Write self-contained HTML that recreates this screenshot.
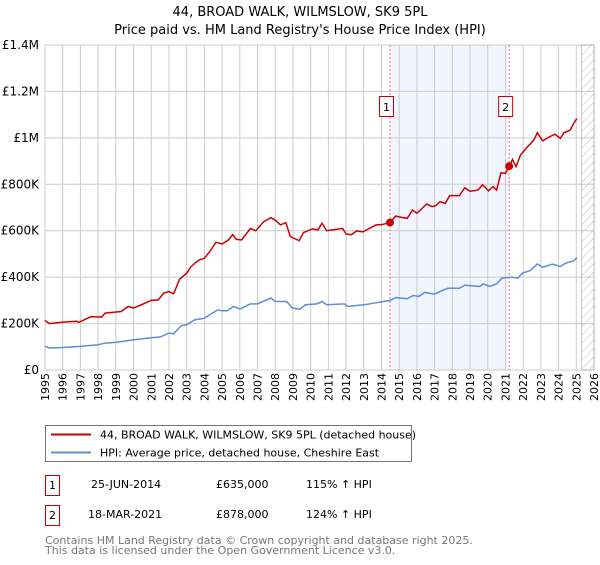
<!DOCTYPE html>
<html><head><meta charset="utf-8"><style>
body{margin:0;background:#fff;font-family:"Liberation Sans","DejaVu Sans",sans-serif;}
svg text{font-family:"DejaVu Sans","Liberation Sans",sans-serif;}
</style></head><body>
<svg id="c" width="600" height="560" xmlns="http://www.w3.org/2000/svg">
<defs><pattern id="h" width="6" height="6" patternUnits="userSpaceOnUse" patternTransform="rotate(45)"><line x1="0" y1="0" x2="0" y2="6" stroke="#bbb" stroke-width="1"/></pattern></defs>
<text x="300" y="16" text-anchor="middle" font-size="13">44, BROAD WALK, WILMSLOW, SK9 5PL</text>
<text x="300" y="34" text-anchor="middle" font-size="13">Price paid vs. HM Land Registry's House Price Index (HPI)</text>
<g id="plot"></g>
<rect x="45.5" y="425.5" width="366" height="36" fill="#fff" stroke="#777"/>
<line x1="51" y1="434.5" x2="91" y2="434.5" stroke="#cc0000" stroke-width="2"/>
<text x="100" y="438.5" font-size="11">44, BROAD WALK, WILMSLOW, SK9 5PL (detached house)</text>
<line x1="51" y1="452.5" x2="91" y2="452.5" stroke="#5b8fd4" stroke-width="2"/>
<text x="100" y="456.5" font-size="11">HPI: Average price, detached house, Cheshire East</text>
<rect x="45.5" y="475.5" width="14" height="20" fill="none" stroke="#cc0000"/>
<text x="52.5" y="489" text-anchor="middle" font-size="11">1</text>
<text x="91" y="488" font-size="11">25-JUN-2014</text>
<text x="216" y="488" font-size="11">£635,000</text>
<text x="306" y="488" font-size="11">115% ↑ HPI</text>
<rect x="45.5" y="505.5" width="14" height="20" fill="none" stroke="#cc0000"/>
<text x="52.5" y="519" text-anchor="middle" font-size="11">2</text>
<text x="88" y="518" font-size="11">18-MAR-2021</text>
<text x="216" y="518" font-size="11">£878,000</text>
<text x="306" y="518" font-size="11">124% ↑ HPI</text>
<text x="45" y="544" font-size="11" fill="#777">Contains HM Land Registry data © Crown copyright and database right 2025.</text>
<text x="45" y="554" font-size="11" fill="#777">This data is licensed under the Open Government Licence v3.0.</text>
</svg>
<script>
const yTicks=[0,200,400,600,800,1000,1200,1400];
const yTickLabels=["£0","£200K","£400K","£600K","£800K","£1M","£1.2M","£1.4M"];
const years=[1995,1996,1997,1998,1999,2000,2001,2002,2003,2004,2005,2006,2007,2008,2009,2010,2011,2012,2013,2014,2015,2016,2017,2018,2019,2020,2021,2022,2023,2024,2025,2026];
const propT=[1995,1995.25,1996,1996.8,1996.9,1997.6,1998.2,1998.4,1999.3,1999.7,2000,2000.65,2001,2001.4,2001.7,2002,2002.26,2002.6,2003,2003.25,2003.7,2004,2004.3,2004.65,2005,2005.35,2005.6,2005.8,2006.1,2006.6,2006.9,2007.35,2007.75,2008,2008.3,2008.6,2008.85,2009.35,2009.6,2010.1,2010.4,2010.65,2010.9,2011.45,2011.8,2012,2012.3,2012.6,2012.95,2013.3,2013.7,2014,2014.48,2014.8,2015.1,2015.45,2015.75,2016,2016.55,2016.85,2017.06,2017.3,2017.6,2017.85,2018.4,2018.7,2019,2019.45,2019.7,2020.05,2020.3,2020.5,2020.75,2021,2021.21,2021.4,2021.6,2021.85,2022.25,2022.6,2022.8,2023.1,2023.55,2023.8,2024.1,2024.3,2024.65,2024.85,2025.03];
const propV=[213,200,206,210,205,230,228,245,252,274,267,288,300,302,331,338,328,391,417,446,474,481,510,550,543,560,583,563,560,610,600,639,656,646,625,635,575,557,592,608,603,632,600,606,610,586,583,599,595,609,625,626,635,663,658,653,689,675,715,704,708,725,718,751,751,785,770,775,798,772,790,775,850,847,878,907,876,926,962,990,1022,987,1007,1016,997,1022,1033,1062,1083];
const hpiT=[1995,1995.25,1996,1997,1998,1998.4,1999,1999.8,2001,2001.5,2002,2002.26,2002.7,2003,2003.45,2004,2004.3,2004.75,2005,2005.3,2005.65,2006,2006.6,2007,2007.75,2008,2008.65,2008.97,2009.4,2009.7,2010.35,2010.65,2010.9,2011.9,2012.1,2013.05,2013.8,2014.5,2014.8,2015.45,2015.8,2016.1,2016.45,2017,2017.3,2017.75,2018.4,2018.7,2019.55,2019.75,2020.1,2020.5,2020.8,2021.3,2021.7,2021.95,2022.4,2022.8,2023.1,2023.65,2024.1,2024.4,2024.85,2025.03];
const hpiV=[102,95,97,102,109,116,119,128,139,142,159,156,191,195,216,223,238,259,255,255,274,262,285,285,310,295,295,267,262,281,285,295,281,285,274,281,291,300,312,307,321,317,334,327,338,352,352,365,360,371,360,371,396,400,396,417,428,457,443,456,446,460,471,484];
const sales=[{n:"1",t:2014.48,v:635},{n:"2",t:2021.21,v:878}];
const X=t=>45+(t-1995)*(594-45)/31, Y=v=>370-v*(370-45)/1400;
const NS="http://www.w3.org/2000/svg", g=document.getElementById('plot');
function mk(tag,a,p){const e=document.createElementNS(NS,tag);for(const k in a)e.setAttribute(k,a[k]);(p||g).appendChild(e);return e;}
let e;
e=mk('rect',{x:X(sales[0].t),y:45,width:X(sales[1].t)-X(sales[0].t),height:325,fill:'#f2f5fd'});


years.forEach(y=>{e=mk('line',{x1:X(y),x2:X(y),y1:45,y2:370,stroke:'#ccc'});


e=mk('text',{x:0,y:0,'font-size':11,'text-anchor':'end',transform:`translate(${X(y)+4},373) rotate(-90)`});e.textContent=y;

});
yTicks.forEach((v,i)=>{e=mk('line',{x1:45,x2:594,y1:Y(v),y2:Y(v),stroke:'#ccc'});


e=mk('text',{x:39,y:Y(v)+4,'font-size':12,'text-anchor':'end'});e.textContent=yTickLabels[i];

});
e=mk('rect',{x:X(2025.3),y:45,width:594-X(2025.3),height:325,fill:'url(#h)',stroke:'#999','stroke-width':0.5});


sales.forEach(s=>{e=mk('line',{x1:X(s.t),x2:X(s.t),y1:45,y2:370,stroke:'#e55','stroke-dasharray':'2,2','stroke-width':0.8});


e=mk('rect',{x:X(s.t)-10.5,y:96.5,width:14,height:20,fill:'#fff',stroke:'#cc0000'});


e=mk('text',{x:X(s.t)-3.5,y:111,'font-size':11,'text-anchor':'middle'});e.textContent=s.n;

});
e=mk('polyline',{points:hpiT.map((t,i)=>X(t)+','+Y(hpiV[i])).join(' '),fill:'none',stroke:'#5b8fd4','stroke-width':1.5});


e=mk('polyline',{points:propT.map((t,i)=>X(t)+','+Y(propV[i])).join(' '),fill:'none',stroke:'#cc0000','stroke-width':1.5});


sales.forEach(s=>{e=mk('circle',{cx:X(s.t),cy:Y(s.v),r:4,fill:'#cc0000'});

});
</script>
</body></html>
